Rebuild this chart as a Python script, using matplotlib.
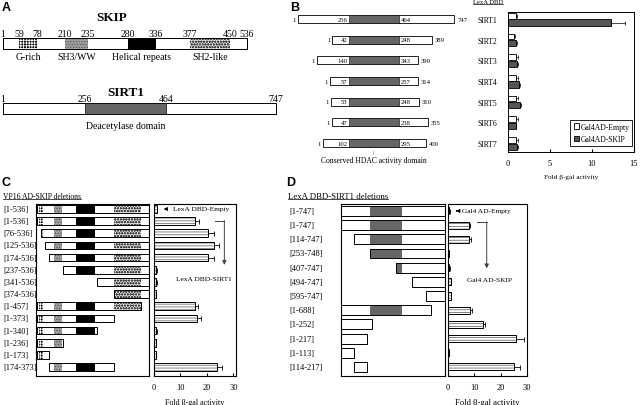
import matplotlib
matplotlib.use('Agg')
import matplotlib.pyplot as plt
import matplotlib.patches as patches
import matplotlib.transforms as transforms
import numpy as np

plt.rcParams['font.family'] = ['Liberation Serif', 'DejaVu Serif']
plt.rcParams['hatch.linewidth'] = 0.6

#------------------------------ data
# A: domain maps
skip_len = 536
skip_dom_name = ['G-rich', 'SH3/WW', 'Helical repeats', 'SH2-like']
skip_dom_start = [59, 210, 280, 377]
skip_dom_end = [78, 235, 336, 450]
sirt1_len = 747
sirt1_dom = [256, 464]

# B: sirtuin family
sirt_names = ['SIRT1', 'SIRT2', 'SIRT3', 'SIRT4', 'SIRT5', 'SIRT6', 'SIRT7']
sirt_len = [747, 389, 399, 314, 310, 355, 400]
sirt_dom_start = [256, 42, 140, 57, 53, 47, 102]
sirt_dom_end = [464, 248, 343, 257, 248, 238, 295]
b_empty = [0.9, 0.7, 1.0, 1.0, 1.0, 1.0, 1.0]
b_empty_err = [0.15, 0.1, 0.15, 0.15, 0.15, 0.15, 0.15]
b_skip = [12.3, 1.0, 1.1, 1.3, 1.4, 0.9, 1.1]
b_skip_err = [1.6, 0.1, 0.1, 0.15, 0.1, 0.1, 0.1]

# C: VP16 AD-SKIP deletions vs LexA DBD-SIRT1
c_labels = ['[1-536]', '[1-536]', '[76-536]', '[125-536]', '[174-536]', '[237-536]',
            '[341-536]', '[374-536]', '[1-457]', '[1-373]', '[1-340]', '[1-236]',
            '[1-173]', '[174-373]']
c_start = [1, 1, 76, 125, 174, 237, 341, 374, 1, 1, 1, 1, 1, 174]
c_end = [536, 536, 536, 536, 536, 536, 536, 536, 457, 373, 340, 236, 173, 373]
c_fold = [1.0, 15.5, 20.5, 22.5, 20.5, 0.9, 0.9, 0.7, 15.5, 16.2, 0.9, 0.8, 0.7, 23.8]
c_err = [0.1, 1.4, 2.0, 2.0, 2.0, 0.1, 0.1, 0.1, 1.3, 1.6, 0.1, 0.1, 0.1, 2.0]

# D: LexA DBD-SIRT1 deletions vs Gal4 AD-SKIP
d_labels = ['[1-747]', '[1-747]', '[114-747]', '[253-748]', '[407-747]', '[494-747]',
            '[595-747]', '[1-688]', '[1-252]', '[1-217]', '[1-113]', '[114-217]']
d_start = [1, 1, 114, 253, 407, 494, 595, 1, 1, 1, 1, 114]
d_end = [747, 747, 747, 748, 747, 747, 747, 688, 252, 217, 113, 217]
d_fold = [0.5, 7.9, 8.0, 0.3, 0.5, 1.0, 1.0, 8.3, 13.3, 26.0, 0.3, 25.0]
d_err = [0.1, 0.6, 0.7, 0.05, 0.1, 0.1, 0.1, 0.8, 0.8, 2.7, 0.05, 2.5]

#------------------------------ schematic (not to scale) residue -> drawing maps
def skipA(r):
    return np.interp(r, [1, 59, 78, 210, 235, 280, 336, 377, 450, 536],
                     [3, 19, 37, 65, 88, 128, 156, 190, 230, 247])
def sirtA(r):
    return np.interp(r, [1, 256, 464, 747], [3, 85, 166, 276])
def skipC(r):
    return np.interp(r, [1, 59, 76, 78, 125, 173, 174, 210, 235, 236, 280, 336, 340, 373, 377, 450, 457, 536],
                     [1, 3, 5, 7, 9, 13, 13, 18, 26, 27, 40, 59, 60.5, 77.5, 77.5, 105, 105, 113])
def sirtD(r):
    return np.interp(r, [1, 113, 114, 217, 252, 253, 256, 407, 464, 494, 595, 688, 748],
                     [0, 13, 13, 26, 31, 29, 29, 55, 61, 71, 85, 90, 104])

dom_style = [dict(color='black', hatch='++++++', edgecolor='white'),
             dict(color='#a0a0a0', hatch='......', edgecolor='#555555'),
             dict(color='black', edgecolor='black'),
             dict(color='#e4e4e4', hatch='oooooo', edgecolor='#444444')]
dark = '#666666'

W, H = 641, 406
def rect(x0, y0, x1, y1):
    return [x0 / W, 1 - y1 / H, (x1 - x0) / W, (y1 - y0) / H]

fig = plt.figure(figsize=(W / 100., H / 100.), dpi=100)

#------------------------------ A
ax_a = fig.add_axes(rect(0, 0, 300, 140))
ax_a.set_xlim(0, 300)
ax_a.set_ylim(1.469, -0.685)
ax_a.axis('off')
hA = 0.17
ax_a.barh(0, skipA(skip_len) - skipA(1), left=skipA(1), height=hA, color='white', edgecolor='black', lw=0.7)
for i in range(4):
    x0, x1 = skipA(skip_dom_start[i]), skipA(skip_dom_end[i])
    ax_a.barh(0, x1 - x0, left=x0, height=hA, lw=0, **dom_style[i])
    ax_a.text((x0 + x1) / 2, 0.195, skip_dom_name[i], ha='center', va='center', fontsize=7)
ax_a.barh(0, skipA(skip_len) - skipA(1), left=skipA(1), height=hA, fill=False, edgecolor='black', lw=0.7)
for r in [1] + skip_dom_start + skip_dom_end + [skip_len]:
    ax_a.text(skipA(r), -0.16, str(r), ha='center', va='center', fontsize=7)
ax_a.barh(1, sirtA(sirt1_len) - sirtA(1), left=sirtA(1), height=hA, color='white', edgecolor='black', lw=0.7)
ax_a.barh(1, sirtA(sirt1_dom[1]) - sirtA(sirt1_dom[0]), left=sirtA(sirt1_dom[0]), height=hA,
          color=dark, edgecolor='black', lw=0.5)
for r in [1] + sirt1_dom + [sirt1_len]:
    ax_a.text(sirtA(r), 1 - 0.155, str(r), ha='center', va='center', fontsize=7)
ax_a.text(sirtA(np.mean(sirt1_dom)), 1.255, 'Deacetylase domain', ha='center', va='center', fontsize=7)

#------------------------------ B
ylimB = (6.43, -0.34)
ax_b = fig.add_axes(rect(508, 13, 634, 153))
yb = np.arange(len(sirt_names))
ax_b.barh(yb - 0.16, b_empty, height=0.28, color='white', edgecolor='black', lw=0.6, label='Gal4AD-Empty')
ax_b.barh(yb + 0.17, b_skip, height=0.3, color='#555555', edgecolor='black', lw=0.6, label='Gal4AD-SKIP')
ax_b.errorbar(b_empty, yb - 0.16, xerr=[np.zeros(7), b_empty_err], fmt='none', ecolor='black',
              elinewidth=0.5, capsize=1.2, capthick=0.5)
ax_b.errorbar(b_skip, yb + 0.17, xerr=[np.zeros(7), b_skip_err], fmt='none', ecolor='black',
              elinewidth=0.5, capsize=1.5, capthick=0.5)
ax_b.set_xlim(0, 15)
ax_b.set_ylim(ylimB)
ax_b.set_xticks([0, 5, 10, 15])
ax_b.set_yticks(yb)
ax_b.set_yticklabels(sirt_names, fontsize=5.5)
ax_b.tick_params(axis='y', length=0, pad=8)
ax_b.tick_params(axis='x', direction='in', length=2.5, labelsize=6, pad=5)
ax_b.set_xlabel('Fold β-gal activity', fontsize=5.2, labelpad=5)
for s in ax_b.spines.values():
    s.set_linewidth(0.7)
ax_b.legend(loc='lower right', bbox_to_anchor=(1.0, 0.03), fontsize=5.5, frameon=True, fancybox=False,
            edgecolor='black', framealpha=1, handlelength=0.7, handleheight=0.7, borderpad=0.4,
            labelspacing=0.6, handletextpad=0.2, borderaxespad=0.2).get_frame().set_linewidth(0.6)

# B domain alignment diagrams
ax_bd = fig.add_axes(rect(285, 13, 470, 153))
ax_bd.set_xlim(285, 470)
ax_bd.set_ylim(ylimB)
ax_bd.axis('off')
d0, dw = 349, 50      # aligned HDAC domain
for i in range(7):
    lw_ = 10 + 0.16 * (sirt_dom_start[i] - 1)
    rw_ = 10 + 0.16 * (sirt_len[i] - sirt_dom_end[i])
    ax_bd.barh(i, lw_ + dw + rw_, left=d0 - lw_, height=0.39, color='white', edgecolor='black', lw=0.6)
    ax_bd.barh(i, dw, left=d0, height=0.39, color=dark, edgecolor='black', lw=0.4)
    ax_bd.text(d0 - lw_ - 2, i, '1', ha='right', va='center', fontsize=4.8)
    ax_bd.text(d0 - 1.5, i, str(sirt_dom_start[i]), ha='right', va='center', fontsize=4.8)
    ax_bd.text(d0 + dw + 1.5, i, str(sirt_dom_end[i]), ha='left', va='center', fontsize=4.8)
    ax_bd.text(d0 + dw + rw_ + 3, i, str(sirt_len[i]), ha='left', va='center', fontsize=4.8)

#------------------------------ C
ylimC = (13.74, -0.41)
yc = np.arange(len(c_labels))
ax_cl = fig.add_axes(rect(36, 205, 149, 377))
ax_cl.set_xlim(0, 113)
ax_cl.set_ylim(ylimC)
ax_cl.set_xticks([]); ax_cl.set_yticks([])
for i in range(len(c_labels)):
    x0, x1 = skipC(c_start[i]), skipC(c_end[i])
    ax_cl.barh(i, x1 - x0, left=x0, height=0.63, color='white', lw=0)
    for j in range(4):
        s, e = max(c_start[i], skip_dom_start[j]), min(c_end[i], skip_dom_end[j])
        if e > s:
            ax_cl.barh(i, skipC(e) - skipC(s), left=skipC(s), height=0.63, lw=0, **dom_style[j])
    ax_cl.barh(i, x1 - x0, left=x0, height=0.63, fill=False, edgecolor='black', lw=0.7)

ax_c = fig.add_axes(rect(154, 205, 236, 377))
ax_c.barh(yc, c_fold, height=0.63, color='white', hatch='------', edgecolor='#707070', lw=0)
ax_c.barh(yc, c_fold, height=0.63, fill=False, edgecolor='black', lw=0.7)
ax_c.errorbar(c_fold, yc, xerr=[np.zeros(len(yc)), c_err], fmt='none', ecolor='black',
              elinewidth=0.6, capsize=1.8, capthick=0.6)
ax_c.set_xlim(0, 31)
ax_c.set_ylim(ylimC)
ax_c.set_xticks([0, 10, 20, 30])
ax_c.set_yticks([])
ax_c.tick_params(axis='x', direction='in', length=2, labelsize=6, pad=5)
ax_c.set_xlabel('Fold β-gal activity', fontsize=5.8, labelpad=5)
ax_c.annotate('', xy=(2.6, 0), xytext=(6.2, 0),
              arrowprops=dict(arrowstyle='-|>', color='black', lw=0.7, mutation_scale=5))
ax_c.text(7.2, 0, 'LexA DBD-Empty', ha='left', va='center', fontsize=5.3)
ax_c.plot([23.1, 26.6], [0.96, 0.96], color='#444444', lw=0.7)
ax_c.annotate('', xy=(26.6, 4.6), xytext=(26.6, 0.96),
              arrowprops=dict(arrowstyle='-|>', color='#444444', lw=0.7, mutation_scale=6,
                              shrinkA=0, shrinkB=0))
ax_c.text(18.8, 5.76, 'LexA DBD-SIRT1', ha='center', va='center', fontsize=5.3)
for a in (ax_cl, ax_c):
    for s in a.spines.values():
        s.set_linewidth(0.8)

#------------------------------ D
ylimD = (11.64, -0.49)
yd = np.arange(len(d_labels))
ax_dl = fig.add_axes(rect(341, 205, 445, 377))
ax_dl.set_xlim(0, 104)
ax_dl.set_ylim(ylimD)
ax_dl.set_xticks([]); ax_dl.set_yticks([])
for i in range(len(d_labels)):
    x0, x1 = sirtD(d_start[i]), sirtD(d_end[i])
    ax_dl.barh(i, x1 - x0, left=x0, height=0.7, color='white', lw=0)
    s, e = max(d_start[i], sirt1_dom[0]), min(d_end[i], sirt1_dom[1])
    if e > s:
        ax_dl.barh(i, sirtD(e) - sirtD(s), left=sirtD(s), height=0.7, color=dark, lw=0)
    ax_dl.barh(i, x1 - x0, left=x0, height=0.7, fill=False, edgecolor='black', lw=0.7)

ax_d = fig.add_axes(rect(448, 205, 527, 377))
ax_d.barh(yd, d_fold, height=0.5, color='white', hatch='------', edgecolor='#707070', lw=0)
ax_d.barh(yd, d_fold, height=0.5, fill=False, edgecolor='black', lw=0.7)
ax_d.errorbar(d_fold, yd, xerr=[np.zeros(len(yd)), d_err], fmt='none', ecolor='black',
              elinewidth=0.6, capsize=1.8, capthick=0.6)
ax_d.set_xlim(0, 30)
ax_d.set_ylim(ylimD)
ax_d.set_xticks([0, 10, 20, 30])
ax_d.set_yticks([])
ax_d.tick_params(axis='x', direction='in', length=2, labelsize=6, pad=5)
ax_d.set_xlabel('Fold β-gal activity', fontsize=6.2, labelpad=5)
ax_d.annotate('', xy=(2.0, 0), xytext=(4.4, 0),
              arrowprops=dict(arrowstyle='-|>', color='black', lw=0.7, mutation_scale=5))
ax_d.text(5.3, 0, 'Gal4 AD-Empty', ha='left', va='center', fontsize=5.3)
ax_d.plot([10.9, 14.7], [0.78, 0.78], color='#444444', lw=0.7)
ax_d.annotate('', xy=(14.7, 4.05), xytext=(14.7, 0.78),
              arrowprops=dict(arrowstyle='-|>', color='#444444', lw=0.7, mutation_scale=6,
                              shrinkA=0, shrinkB=0))
ax_d.text(15.8, 4.85, 'Gal4 AD-SKIP', ha='center', va='center', fontsize=5.3)
for a in (ax_dl, ax_d):
    for s in a.spines.values():
        s.set_linewidth(0.8)

#------------------------------ overlay texts (pixel coords)
base = fig.add_axes([0, 0, 1, 1])
base.set_xlim(0, W)
base.set_ylim(H, 0)
base.axis('off')
letter = dict(family=['Liberation Sans', 'DejaVu Sans'], weight='bold', fontsize=9, va='center', ha='left')
base.text(2, 8, 'A', **letter)
base.text(290, 8, 'B', **letter)
base.text(2, 183, 'C', **letter)
base.text(286, 183, 'D', **letter)
base.text(112, 18, 'SKIP', ha='center', va='center', fontsize=9.5, weight='bold')
base.text(126, 93, 'SIRT1', ha='center', va='center', fontsize=9.5, weight='bold')
base.text(374, 153, '||', ha='center', va='center', fontsize=3.5)
base.text(374, 161, 'Conserved HDAC activity domain', ha='center', va='center', fontsize=5.5)
t_b = base.text(473, 3, 'LexA DBD', ha='left', va='center', fontsize=4.8)
t_c = base.text(3, 197, 'VP16 AD-SKIP deletions', ha='left', va='center', fontsize=5.5)
t_d = base.text(288, 197, 'LexA DBD-SIRT1 deletions', ha='left', va='center', fontsize=6.3)

trC = transforms.blended_transform_factory(base.transData, ax_c.transData)
for i in range(len(c_labels)):
    base.text(3, i, c_labels[i], transform=trC, ha='left', va='center', fontsize=6)
trD = transforms.blended_transform_factory(base.transData, ax_d.transData)
for i in range(len(d_labels)):
    base.text(289, i, d_labels[i], transform=trD, ha='left', va='center', fontsize=6)

# underline the three section headers
fig.canvas.draw()
inv = base.transData.inverted()
for t in (t_b, t_c, t_d):
    bb = t.get_window_extent()
    (x0, y0), (x1, y1) = inv.transform([[bb.x0, bb.y0], [bb.x1, bb.y1]])
    base.plot([x0, x1], [max(y0, y1) - 0.8] * 2, color='black', lw=0.5)

fig.savefig('out.png', dpi=100)
